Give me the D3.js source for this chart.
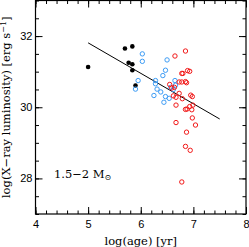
<!DOCTYPE html>
<html>
<head>
<meta charset="utf-8">
<script src="https://cdn.jsdelivr.net/npm/d3@7"></script>
<style>
  body { margin: 0; background: #fff; }
  svg { display: block; }
</style>
</head>
<body>
<svg id="chart"></svg>
<script>
// black filled points (log age, log Lx)
var blackAge = [5.00, 5.70, 5.84, 5.77, 5.84, 5.84, 5.90];
var blackLx  = [31.13, 31.65, 31.71, 31.25, 31.21, 31.04, 30.61];

// blue open circles
var blueAge = [6.03, 6.03, 6.50, 6.47, 6.42, 5.95, 5.90, 6.28, 6.28, 6.31, 6.38, 6.25, 6.47, 6.44, 6.54, 6.65, 6.62, 6.66, 6.57];
var blueLx  = [31.50, 31.29, 31.33, 31.04, 30.89, 30.75, 30.51, 30.75, 30.66, 30.51, 30.43, 30.33, 30.30, 30.14, 30.25, 30.75, 30.50, 30.62, 30.56];

// red open circles
var redAge = [6.65, 6.85, 6.78, 6.80, 6.89, 6.93, 6.73, 6.78, 6.85, 6.87, 6.55, 6.59, 6.64, 6.73, 6.62, 6.67,
              6.79, 6.95, 6.98, 6.67, 6.93, 6.99, 6.85, 6.88, 6.97, 6.67, 6.98, 7.04, 6.87, 6.85, 6.94, 6.78];
var redLx  = [31.44, 31.58, 30.95, 30.95, 31.03, 31.01, 30.71, 30.71, 30.72, 30.69, 30.64, 30.54, 30.56, 30.39, 30.32, 30.28,
              30.24, 30.34, 30.30, 30.06, 30.02, 30.06, 29.94, 29.95, 29.93, 29.57, 29.70, 29.50, 29.30, 28.90, 28.79, 27.90];

// fitted line end points
var fitAge = [5.0, 7.5];
var fitLx  = [31.81, 29.67];

var xTicks = [4, 5, 6, 7, 8];
var yTicks = [28, 30, 32];

var svg = d3.select("#chart").attr("width", 249).attr("height", 247),
    margin = {top: 0.5, right: 3, bottom: 33, left: 35.5},
    width = 249 - margin.left - margin.right,
    height = 247 - margin.top - margin.bottom,
    g = svg.append("g").attr("transform", "translate(" + margin.left + "," + margin.top + ")");

var x = d3.scaleLinear().domain([4, 8]).range([0, width]);
var y = d3.scaleLinear().domain([27, 33]).range([height, 0]);

var xMinor = d3.range(4, 8.001, 0.2), yMinor = d3.range(27, 33.001, 0.5);

function styleAxis(sel) {
    sel.select(".domain").remove();
    sel.selectAll("line").attr("stroke", "#000").attr("stroke-width", 1);
    sel.selectAll("text").attr("font-family", "'Liberation Sans', Arial, sans-serif")
        .attr("font-size", 11).attr("fill", "#000");
}

// major ticks, inside
g.append("g").attr("transform", "translate(0," + height + ")")
    .call(d3.axisBottom(x).tickValues(xTicks).tickSizeInner(-7).tickSizeOuter(0).tickPadding(6).tickFormat(d3.format("d")))
    .call(styleAxis);
g.append("g")
    .call(d3.axisTop(x).tickValues(xTicks).tickSizeInner(-7).tickSizeOuter(0).tickFormat(""))
    .call(styleAxis);
g.append("g")
    .call(d3.axisLeft(y).tickValues(yTicks).tickSizeInner(-7).tickSizeOuter(0).tickPadding(3).tickFormat(d3.format("d")))
    .call(styleAxis);
g.append("g").attr("transform", "translate(" + width + ",0)")
    .call(d3.axisRight(y).tickValues(yTicks).tickSizeInner(-7).tickSizeOuter(0).tickFormat(""))
    .call(styleAxis);

// minor ticks
g.append("g").attr("transform", "translate(0," + height + ")")
    .call(d3.axisBottom(x).tickValues(xMinor).tickSizeInner(-3.5).tickSizeOuter(0).tickFormat(""))
    .call(styleAxis);
g.append("g")
    .call(d3.axisTop(x).tickValues(xMinor).tickSizeInner(-3.5).tickSizeOuter(0).tickFormat(""))
    .call(styleAxis);
g.append("g")
    .call(d3.axisLeft(y).tickValues(yMinor).tickSizeInner(-3.5).tickSizeOuter(0).tickFormat(""))
    .call(styleAxis);
g.append("g").attr("transform", "translate(" + width + ",0)")
    .call(d3.axisRight(y).tickValues(yMinor).tickSizeInner(-3.5).tickSizeOuter(0).tickFormat(""))
    .call(styleAxis);

// frame
g.append("rect").attr("width", width).attr("height", height)
    .attr("fill", "none").attr("stroke", "#000").attr("stroke-width", 1.2);

// fit line
g.append("line")
    .attr("x1", x(fitAge[0])).attr("y1", y(fitLx[0]))
    .attr("x2", x(fitAge[1])).attr("y2", y(fitLx[1]))
    .attr("stroke", "#000").attr("stroke-width", 1);

// points
g.selectAll("circle.blk").data(d3.range(blackAge.length)).enter().append("circle")
    .attr("cx", function (i) { return x(blackAge[i]); })
    .attr("cy", function (i) { return y(blackLx[i]); })
    .attr("r", 2.3).attr("fill", "#000");

g.selectAll("circle.blu").data(d3.range(blueAge.length)).enter().append("circle")
    .attr("cx", function (i) { return x(blueAge[i]); })
    .attr("cy", function (i) { return y(blueLx[i]); })
    .attr("r", 2.2).attr("fill", "none").attr("stroke", "#3d9cf5").attr("stroke-width", 1);

g.selectAll("circle.red").data(d3.range(redAge.length)).enter().append("circle")
    .attr("cx", function (i) { return x(redAge[i]); })
    .attr("cy", function (i) { return y(redLx[i]); })
    .attr("r", 2.2).attr("fill", "none").attr("stroke", "#f21a1a").attr("stroke-width", 1);

// labels
var serif = "'DejaVu Serif', 'Liberation Serif', serif";
svg.append("text")
    .attr("x", margin.left + width / 2).attr("y", 245)
    .attr("text-anchor", "middle").attr("font-family", serif).attr("font-size", 11.5)
    .text("log(age) [yr]");

var yl = svg.append("text")
    .attr("transform", "translate(10," + (margin.top + y(30)) + ") rotate(-90)")
    .attr("text-anchor", "middle").attr("font-family", serif).attr("font-size", 11.5);
yl.append("tspan").text("log(X\u2212ray luminosity) [erg s");
yl.append("tspan").attr("dy", -4).attr("font-size", 8).text("\u22121");
yl.append("tspan").attr("dy", 4).text("]");

var lg = g.append("text")
    .attr("x", x(4.35)).attr("y", y(28.02))
    .attr("font-family", serif).attr("font-size", 11.5);
lg.append("tspan").text("1.5\u22122 M");
lg.append("tspan").attr("dy", 2.5).attr("font-size", 8).text("\u2299");
</script>
</body>
</html>
